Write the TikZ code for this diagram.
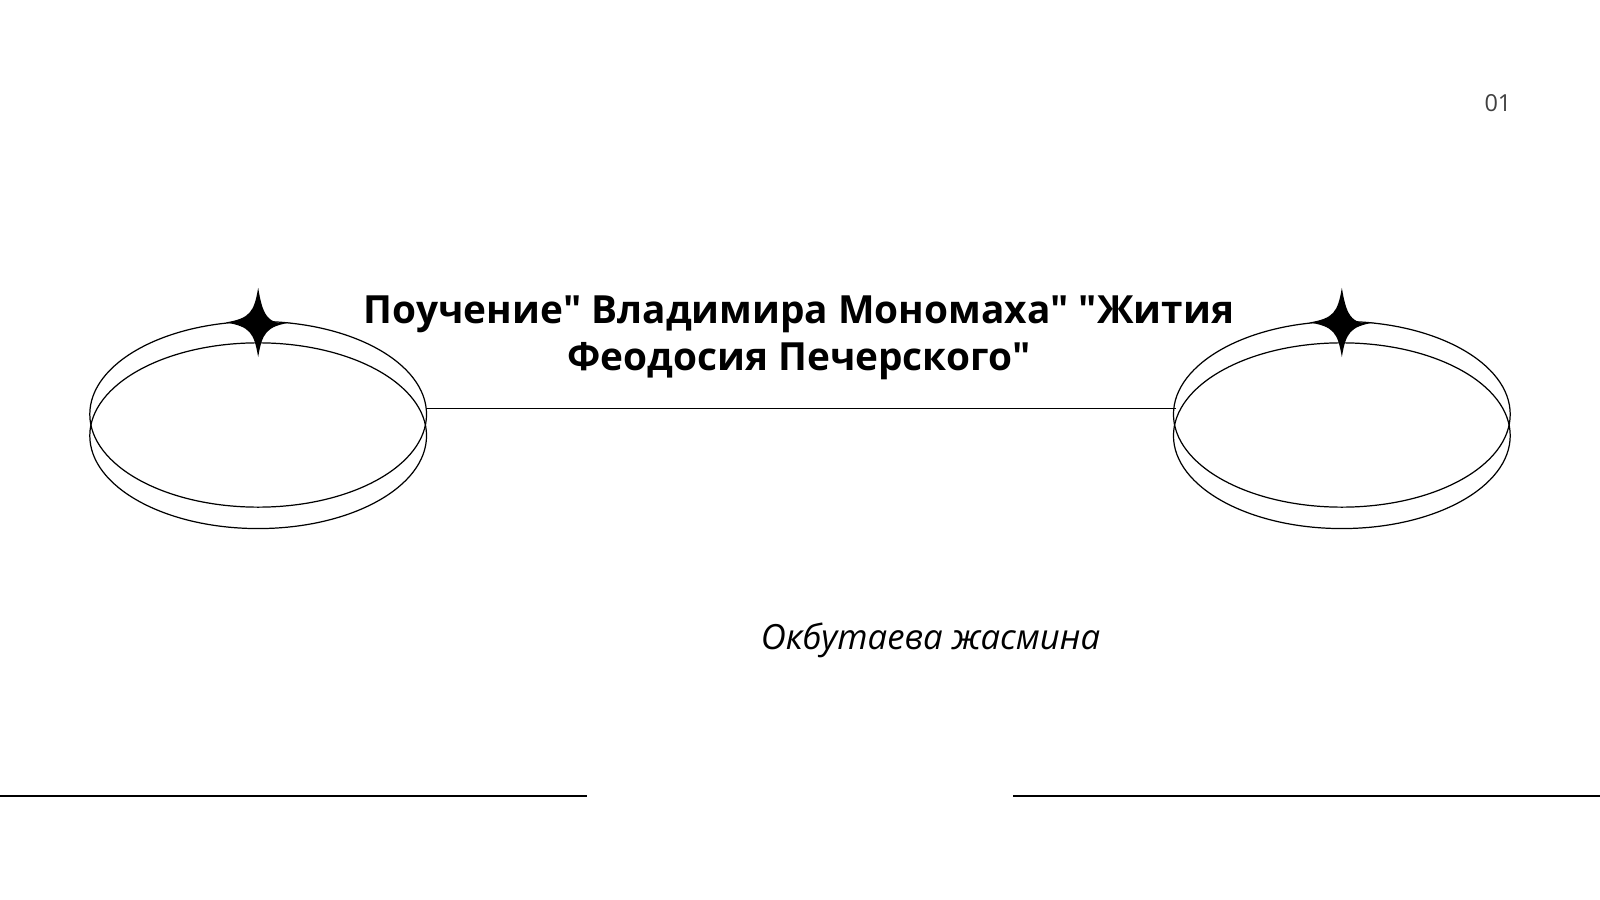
\documentclass[tikz,border=0pt]{standalone}
\usepackage{fontspec}
\setmainfont{Open Sans}
\tikzset{
  ring/.style={draw=black, line width=1.2pt},
  rule/.style={draw=black, line width=1.6pt},
  sparkle/.style={fill=black}
}
\newcommand{\sparkstar}[1]{%
  \fill[sparkle] (#1) ++(0,-34) .. controls +(4,24) and +(-24,4) .. ++(32,34)
    .. controls +(-24,4) and +(4,-24) .. ++(-32,34)
    .. controls +(-4,-24) and +(24,4) .. ++(-32,-34)
    .. controls +(24,-4) and +(-4,24) .. cycle;}
\newcommand{\qd}{\textquotedbl}
\begin{document}
\begin{tikzpicture}[x=1pt,y=-1pt]
  \useasboundingbox (0,0) rectangle (1568,882);
  % left ring
  \coordinate (lc) at (253,406);
  \draw[ring] (lc) ellipse [x radius=165, y radius=91];
  \draw[ring] ([yshift=-21]lc) ellipse [x radius=165, y radius=91];
  \coordinate (ls) at (253,316);
  \sparkstar{ls}
  % right ring
  \coordinate (rc) at (1315,406);
  \draw[ring] (rc) ellipse [x radius=165, y radius=91];
  \draw[ring] ([yshift=-21]rc) ellipse [x radius=165, y radius=91];
  \coordinate (rs) at (1315,316);
  \sparkstar{rs}
  % connector
  \coordinate (la) at (418,400);
  \coordinate (ra) at (1152,400);
  \draw[ring] (la) -- (ra);
  % bottom rules
  \coordinate (b1) at (0,780);
  \coordinate (b2) at (575,780);
  \coordinate (b3) at (993,780);
  \coordinate (b4) at (1568,780);
  \draw[rule] (b1) -- (b2);
  \draw[rule] (b3) -- (b4);
  % texts
  \node[font=\fontsize{38}{46}\selectfont\bfseries, align=center] (title) at (783,331)
    {Поучение\qd{} Владимира Мономаха\qd{} \qd Жития\\Феодосия Печерского\qd};
  \node[font=\fontsize{34}{40}\selectfont\itshape] (author) at (912,628) {Окбутаева жасмина};
  \node[font=\fontsize{23}{26}\selectfont, text=black!75] (page) at (1468,101) {01};
\end{tikzpicture}
\end{document}
